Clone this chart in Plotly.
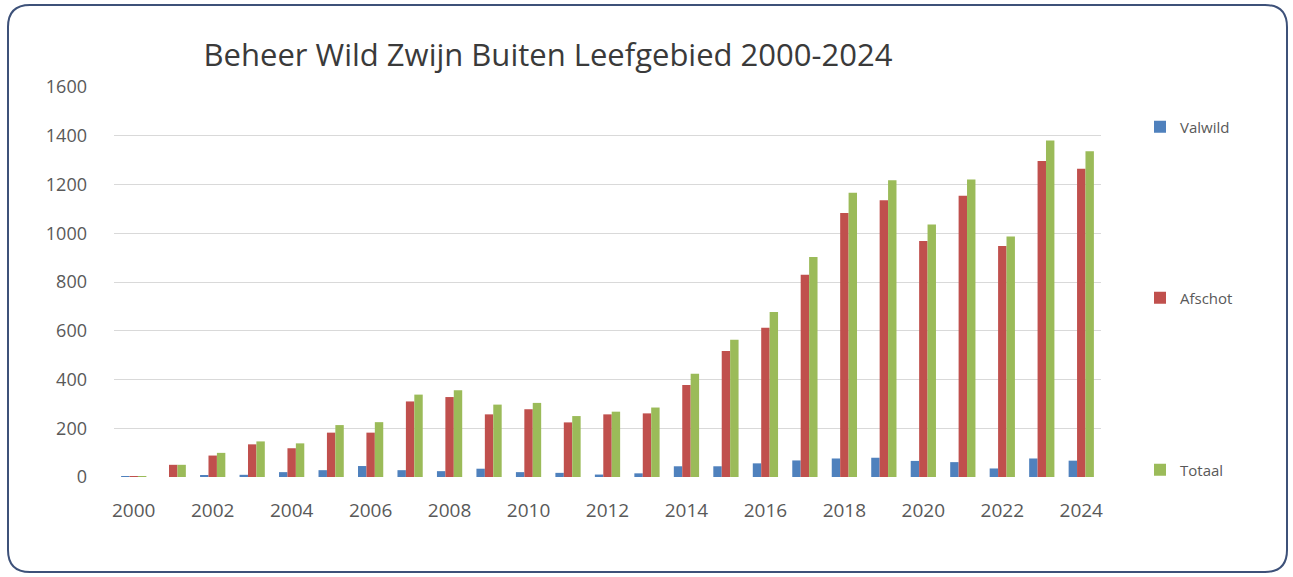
import plotly.graph_objects as go

years = list(range(2000, 2025))
valwild = [2, 0, 5, 9, 20, 28, 45, 28, 24, 34, 20, 17, 10, 15, 44, 44, 56, 68, 76, 79, 66, 61, 35, 76, 67]
afschot = [3, 50, 88, 134, 118, 182, 182, 310, 328, 257, 278, 224, 257, 261, 377, 517, 612, 830, 1083, 1135, 968, 1154, 948, 1296, 1265]
totaal = [3, 50, 99, 146, 138, 213, 225, 338, 356, 297, 304, 250, 268, 285, 424, 563, 677, 903, 1166, 1217, 1036, 1221, 987, 1381, 1336]
y_ticks = [0, 200, 400, 600, 800, 1000, 1200, 1400, 1600]
x_ticks = list(range(2000, 2025, 2))

W, H = 1293, 577
L, R, T, B = 114, W - 1101, 87, H - 477
PW, PH = W - L - R, H - T - B

def px(x):
    return (x - L) / PW

def py(y):
    return 1 - (y - T) / PH

def cx(x):
    return x / W

def cy(y):
    return 1 - y / H

font = "Open Sans, Liberation Sans, sans-serif"
colors = {"Valwild": "#4f81bd", "Afschot": "#c0504d", "Totaal": "#9bbb59"}

fig = go.Figure()
for name, vals, lg in [("Valwild", valwild, "legend"), ("Afschot", afschot, "legend2"), ("Totaal", totaal, "legend3")]:
    fig.add_trace(go.Bar(x=years, y=vals, name=name, marker=dict(color=colors[name], line=dict(width=0)),
                         legend=lg))

# rounded border
x0, x1, y0, y1, r = 8, 1287, 5, 572, 22
path = (f"M {px(x0 + r)},{py(y0)} L {px(x1 - r)},{py(y0)} Q {px(x1)},{py(y0)} {px(x1)},{py(y0 + r)} "
        f"L {px(x1)},{py(y1 - r)} Q {px(x1)},{py(y1)} {px(x1 - r)},{py(y1)} "
        f"L {px(x0 + r)},{py(y1)} Q {px(x0)},{py(y1)} {px(x0)},{py(y1 - r)} "
        f"L {px(x0)},{py(y0 + r)} Q {px(x0)},{py(y0)} {px(x0 + r)},{py(y0)} Z")

legend_common = dict(xref="container", yref="container", xanchor="left", yanchor="middle",
                     font=dict(family=font, size=15, color="#595959"), bgcolor="rgba(0,0,0,0)",
                     itemwidth=30)

fig.update_layout(
    width=W, height=H,
    margin=dict(l=L, r=R, t=T, b=B),
    paper_bgcolor="white", plot_bgcolor="white",
    barmode="group", bargap=0.36, bargroupgap=0.0,
    title=dict(text="Beheer Wild Zwijn Buiten Leefgebied 2000-2024", x=cx(548), xanchor="center",
               y=cy(55), yanchor="middle", xref="container", yref="container",
               font=dict(family=font, size=31, color="#3a3a3a")),
    xaxis=dict(range=[1999.5, 2024.5], tickmode="array", tickvals=x_ticks, ticktext=[str(v) for v in x_ticks],
               showgrid=False, zeroline=False, showline=False, ticks="", ticklabelstandoff=20,
               tickfont=dict(family=font, size=19, color="#595959")),
    yaxis=dict(range=[0, 1600], tickmode="array", tickvals=y_ticks, ticktext=[str(v) for v in y_ticks],
               showgrid=True, gridcolor="#d9d9d9", gridwidth=1, zeroline=False, showline=False,
               ticks="", ticklabelstandoff=26,
               tickfont=dict(family=font, size=18, color="#595959")),
    legend=dict(x=cx(1140), y=cy(127), **legend_common),
    legend2=dict(x=cx(1140), y=cy(298), **legend_common),
    legend3=dict(x=cx(1140), y=cy(470), **legend_common),
    shapes=[dict(type="path", path=path, xref="paper", yref="paper", line=dict(color="#3d5179", width=2),
                 fillcolor="rgba(0,0,0,0)", layer="above")],
    showlegend=True,
)

fig.write_html("out.html", config={"displayModeBar": False},
               post_script="document.body.style.margin='0';document.body.style.overflow='hidden';")
